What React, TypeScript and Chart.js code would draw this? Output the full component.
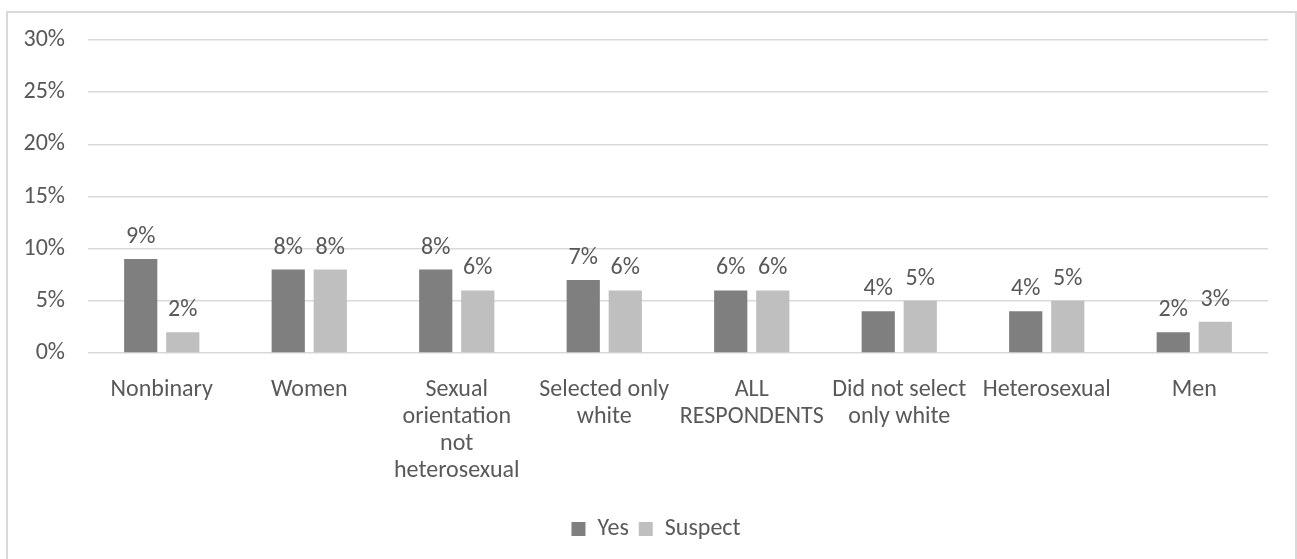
import React, { useEffect, useRef } from "react";
import { Chart, registerables } from "chart.js";

Chart.register(...registerables);

const categories: string[][] = [
  ["Nonbinary"],
  ["Women"],
  ["Sexual", "orientation", "not", "heterosexual"],
  ["Selected only", "white"],
  ["ALL", "RESPONDENTS"],
  ["Did not select", "only white"],
  ["Heterosexual"],
  ["Men"],
];
const yesValues = [9, 8, 8, 7, 6, 4, 4, 2];
const suspectValues = [2, 8, 6, 6, 6, 5, 5, 3];
const yTicks = [0, 5, 10, 15, 20, 25, 30];

const FONT = "Carlito, Calibri, Lato, 'Open Sans', sans-serif";
const TEXT = "#595959";
const SIZE = 24;

const labelPlugin = {
  id: "barLabels",
  afterUpdate(chart: any) {
    const lg = chart.legend;
    if (lg) {
      lg.left += 22;
      lg.right += 22;
    }
  },
  afterDatasetsDraw(chart: any) {
    const ctx = chart.ctx;
    ctx.save();
    ctx.font = `${SIZE}px ${FONT}`;
    ctx.fillStyle = TEXT;
    ctx.textAlign = "center";
    ctx.textBaseline = "middle";
    chart.data.datasets.forEach((ds: any, i: number) => {
      const meta = chart.getDatasetMeta(i);
      meta.data.forEach((bar: any, j: number) => {
        ctx.fillText(`${ds.data[j]}%`, bar.x, bar.y - 22);
      });
    });
    ctx.restore();
  },
};

export default function App() {
  const ref = useRef<HTMLCanvasElement>(null);
  useEffect(() => {
    if (!ref.current) return;
    const chart = new Chart(ref.current, {
      type: "bar",
      data: {
        labels: categories,
        datasets: [
          {
            label: "Yes",
            data: yesValues,
            backgroundColor: "#7f7f7f",
            categoryPercentage: 0.57,
            barPercentage: 0.79,
          },
          {
            label: "Suspect",
            data: suspectValues,
            backgroundColor: "#bfbfbf",
            categoryPercentage: 0.57,
            barPercentage: 0.79,
          },
        ],
      },
      options: {
        responsive: false,
        animation: false,
        layout: { padding: { top: 40, right: 29, bottom: 8, left: 0 } },
        plugins: {
          tooltip: { enabled: false },
          legend: {
            position: "bottom",
            labels: {
              boxWidth: 14,
              boxHeight: 14,
              padding: 10,
              color: TEXT,
              font: { size: SIZE, family: FONT },
            },
          },
        },
        scales: {
          x: {
            grid: { display: false, drawTicks: false },
            border: { display: false },
            ticks: {
              color: TEXT,
              font: { size: SIZE, family: FONT, lineHeight: 1.125 },
              maxRotation: 0,
              minRotation: 0,
              autoSkip: false,
              padding: 23,
            },
            afterFit(scale: any) {
              scale.height = 154;
            },
          },
          y: {
            min: 0,
            max: 30,
            afterBuildTicks(scale: any) {
              scale.ticks = yTicks.map((v) => ({ value: v }));
            },
            grid: { color: "#d9d9d9", lineWidth: 1.5, drawTicks: false },
            border: { display: false },
            ticks: {
              color: TEXT,
              font: { size: SIZE, family: FONT },
              padding: 23,
              callback: (v: any) => `${v}%`,
            },
            afterFit(scale: any) {
              scale.width = 88;
            },
          },
        },
      },
      plugins: [labelPlugin],
    });
    return () => chart.destroy();
  }, []);
  return (
    <>
      <div
        style={{
          position: "fixed",
          left: 6,
          top: 11,
          width: 1291,
          height: 600,
          border: "2px solid #d9d9d9",
          boxSizing: "border-box",
        }}
      />
      <canvas
        ref={ref}
        width={1297}
        height={559}
        style={{ position: "fixed", left: 0, top: 0, width: 1297, height: 559 }}
      />
    </>
  );
}
